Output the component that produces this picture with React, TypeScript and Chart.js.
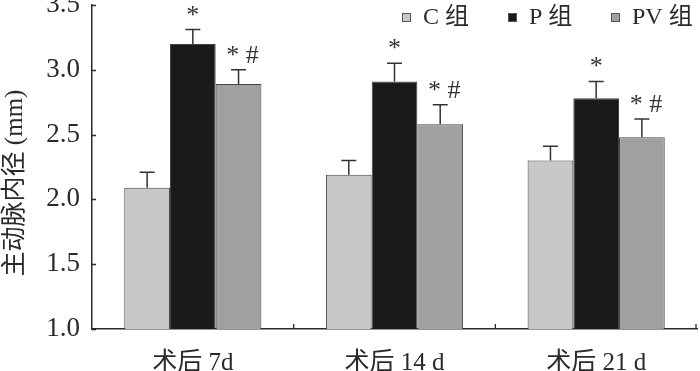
import React, { useEffect, useRef } from "react";
import { Chart, registerables } from "chart.js";

Chart.register(...registerables);

const categories = ["术后 7d", "术后 14 d", "术后 21 d"];
const groupLabels = ["C 组", "P 组", "PV 组"];
const cValues = [2.09, 2.19, 2.3];
const pValues = [3.2, 2.91, 2.78];
const pvValues = [2.89, 2.58, 2.48];
const cErrors = [0.12, 0.11, 0.11];
const pErrors = [0.11, 0.14, 0.13];
const pvErrors = [0.11, 0.15, 0.14];
const cMarks = ["", "", ""];
const pMarks = ["*", "*", "*"];
const pvMarks = ["* #", "* #", "* #"];
const yTickValues = [1.0, 1.5, 2.0, 2.5, 3.0, 3.5];
const yTitle = "主动脉内径 (mm)";

const colors = ["#c8c8c8", "#1a1a1a", "#a0a0a0"];
const FONT = "'Liberation Serif', 'Times New Roman', 'Noto Sans CJK SC', serif";
const INK = "#2a2a2a";

const errorsBy = [cErrors, pErrors, pvErrors];
const marksBy = [cMarks, pMarks, pvMarks];

const overlayPlugin = {
  id: "overlay",
  afterDatasetsDraw(chart: any) {
    const ctx = chart.ctx;
    const y = chart.scales.y;
    const x = chart.scales.x;
    const area = chart.chartArea;
    ctx.save();
    chart.data.datasets.forEach((ds: any, di: number) => {
      const meta = chart.getDatasetMeta(di);
      meta.data.forEach((bar: any, i: number) => {
        const v = ds.data[i];
        const top = y.getPixelForValue(v + errorsBy[di][i]);
        const barTop = y.getPixelForValue(v);
        ctx.strokeStyle = "#333";
        ctx.lineWidth = 1.5;
        ctx.beginPath();
        ctx.moveTo(bar.x, barTop);
        ctx.lineTo(bar.x, top);
        ctx.moveTo(bar.x - 7.5, top);
        ctx.lineTo(bar.x + 7.5, top);
        ctx.stroke();
        const mark = marksBy[di][i];
        if (mark) {
          ctx.fillStyle = "#333";
          ctx.font = `26px ${FONT}`;
          ctx.textAlign = "center";
          ctx.textBaseline = "alphabetic";
          const off = mark.length > 1 ? 4 : 0;
          ctx.fillText(mark, bar.x + off, top - 7);
        }
      });
    });
    ctx.strokeStyle = INK;
    ctx.lineWidth = 1.3;
    ctx.beginPath();
    yTickValues.forEach((t) => {
      const py = Math.round(y.getPixelForValue(t)) + 0.5;
      ctx.moveTo(area.left, py);
      ctx.lineTo(area.left + 4, py);
    });
    for (let i = 0; i < categories.length; i++) {
      const px = x.getPixelForValue(i) + (x.getPixelForValue(1) - x.getPixelForValue(0)) / 2;
      const rx = Math.min(px, area.right - 1);
      ctx.moveTo(rx, area.bottom);
      ctx.lineTo(rx, area.bottom - 5);
    }
    ctx.stroke();
    ctx.save();
    ctx.translate(15, 183);
    ctx.rotate(-Math.PI / 2);
    ctx.fillStyle = INK;
    ctx.font = `25px ${FONT}`;
    ctx.textAlign = "center";
    ctx.textBaseline = "middle";
    ctx.fillText(yTitle, 0, 0);
    ctx.restore();
    const legendX = [402, 508, 611];
    ctx.font = `24px ${FONT}`;
    ctx.textAlign = "left";
    ctx.textBaseline = "middle";
    chart.data.datasets.forEach((ds: any, di: number) => {
      const lx = legendX[di];
      ctx.fillStyle = ds.backgroundColor;
      ctx.fillRect(lx, 13, 9, 9);
      ctx.strokeStyle = "#555";
      ctx.lineWidth = 1;
      ctx.strokeRect(lx + 0.5, 13.5, 8, 8);
      ctx.fillStyle = INK;
      ctx.fillText(ds.label, lx + 21, 18);
    });
    ctx.restore();
  },
};

export default function App() {
  const ref = useRef<HTMLCanvasElement>(null);
  useEffect(() => {
    document.body.style.margin = "0";
    const chart = new Chart(ref.current!, {
      type: "bar",
      data: {
        labels: categories,
        datasets: [cValues, pValues, pvValues].map((d, i) => ({
          label: groupLabels[i],
          data: d,
          backgroundColor: colors[i],
          borderColor: "#444",
          borderWidth: 1,
          barPercentage: 1,
          categoryPercentage: 0.68,
        })),
      },
      options: {
        animation: false,
        responsive: false,
        maintainAspectRatio: false,
        layout: { padding: { top: 5, right: 3, left: 0, bottom: 0 } },
        plugins: { legend: { display: false }, tooltip: { enabled: false } },
        scales: {
          x: {
            grid: { display: false, drawTicks: false },
            border: { display: true, color: INK, width: 1.5 },
            ticks: { color: INK, font: { family: FONT, size: 25 }, padding: 19 },
            afterFit: (s: any) => {
              s.height = 42;
              s.paddingLeft = 0;
              s.paddingRight = 0;
            },
          },
          y: {
            min: 1,
            max: 3.5,
            grid: { display: false, drawTicks: false },
            border: { display: true, color: INK, width: 1.5 },
            afterBuildTicks: (s: any) => {
              s.ticks = yTickValues.map((v) => ({ value: v }));
            },
            ticks: {
              color: INK,
              font: { family: FONT, size: 27 },
              padding: 12,
              callback: (v: any) => Number(v).toFixed(1),
            },
            afterFit: (s: any) => {
              s.width = 92;
              s.paddingTop = 0;
              s.paddingBottom = 0;
            },
          },
        },
      },
      plugins: [overlayPlugin],
    });
    return () => chart.destroy();
  }, []);
  return <canvas ref={ref} width={700} height={371} style={{ display: "block" }} />;
}
